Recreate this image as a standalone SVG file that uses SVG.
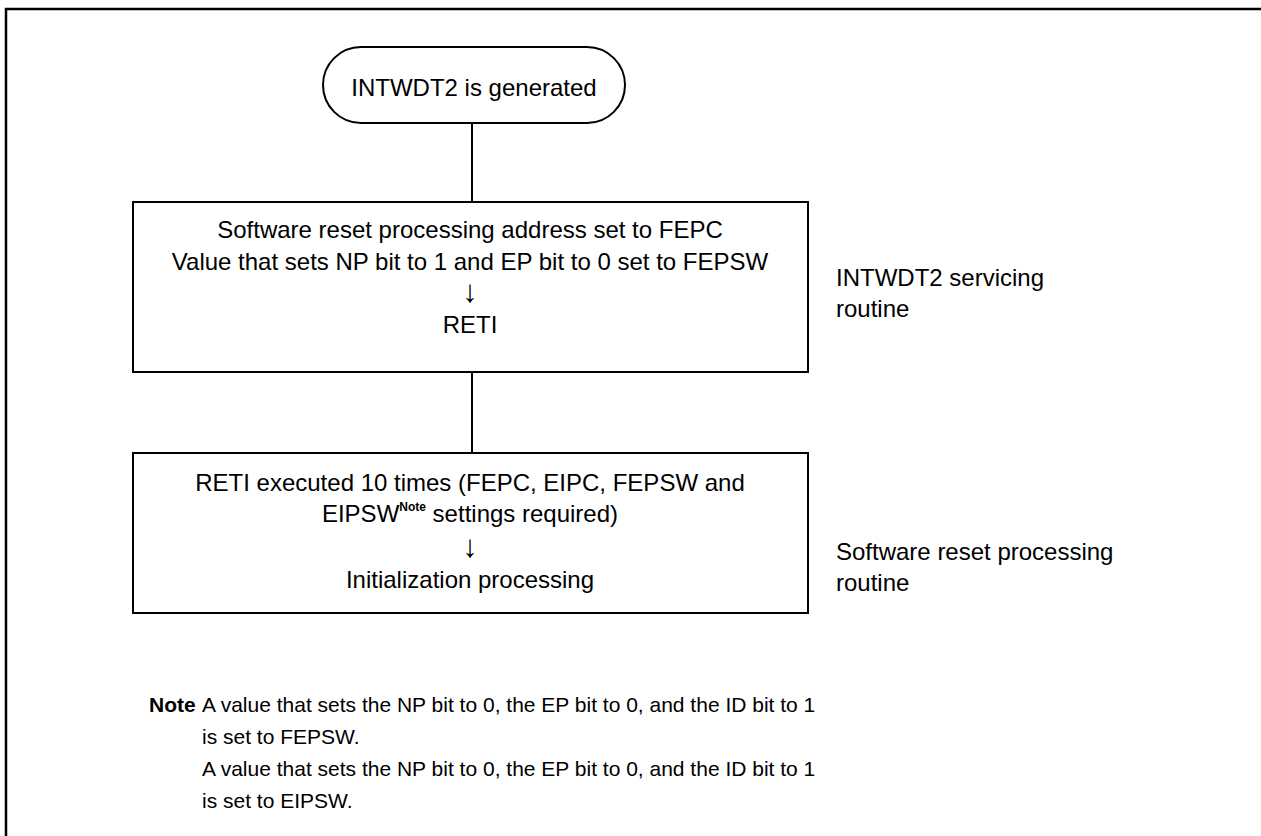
<svg xmlns="http://www.w3.org/2000/svg" width="1261" height="836" viewBox="0 0 1261 836">
  <style>
    .shape { fill: #ffffff; stroke: #000000; stroke-width: 2; }
    .wire { stroke: #000000; stroke-width: 2; fill: none; }
    text { font-family: "Liberation Sans", Arial, Helvetica, sans-serif; font-size: 24px; fill: #000000; }
    .c { text-anchor: middle; }
    .arrow { font-size: 31px; }
    .sup { font-size: 12px; font-weight: bold; }
    .note { font-size: 21px; }
    .bold { font-weight: bold; }
  </style>
  <rect width="1261" height="836" fill="#ffffff"/>
  <!-- outer frame -->
  <rect x="6" y="9" width="1300" height="900" fill="none" stroke="#000000" stroke-width="2.5"/>

  <g id="connectors">
    <line class="wire" x1="472" y1="123" x2="472" y2="202"/>
    <line class="wire" x1="472" y1="372" x2="472" y2="453"/>
  </g>

  <g id="start">
    <rect class="shape" x="323" y="47" width="302" height="76" rx="38" ry="38"/>
    <text class="c" x="474" y="96">INTWDT2 is generated</text>
  </g>

  <g id="servicing">
    <rect class="shape" x="133" y="202" width="675" height="170"/>
    <text class="c" x="470" y="238">Software reset processing address set to FEPC</text>
    <text class="c" x="470" y="270">Value that sets NP bit to 1 and EP bit to 0 set to FEPSW</text>
    <text class="c arrow" x="470" y="302">↓</text>
    <text class="c" x="470" y="333">RETI</text>
  </g>

  <g id="servicing-label">
    <text x="836" y="286">INTWDT2 servicing</text>
    <text x="836" y="317">routine</text>
  </g>

  <g id="reset">
    <rect class="shape" x="133" y="453" width="675" height="160"/>
    <text class="c" x="470" y="491">RETI executed 10 times (FEPC, EIPC, FEPSW and</text>
    <text class="c" x="470" y="522">EIPSW<tspan class="sup" dy="-11">Note</tspan><tspan dy="11"> settings required)</tspan></text>
    <text class="c arrow" x="470" y="557">↓</text>
    <text class="c" x="470" y="588">Initialization processing</text>
  </g>

  <g id="reset-label">
    <text x="836" y="560">Software reset processing</text>
    <text x="836" y="591">routine</text>
  </g>

  <g id="note" class="note">
    <text class="note bold" x="149" y="712">Note</text>
    <text class="note" x="202" y="712">A value that sets the NP bit to 0, the EP bit to 0, and the ID bit to 1</text>
    <text class="note" x="202" y="744">is set to FEPSW.</text>
    <text class="note" x="202" y="776">A value that sets the NP bit to 0, the EP bit to 0, and the ID bit to 1</text>
    <text class="note" x="202" y="808">is set to EIPSW.</text>
  </g>
</svg>
